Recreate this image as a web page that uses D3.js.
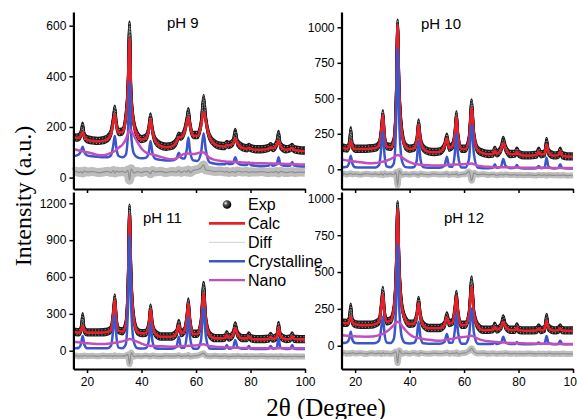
<!DOCTYPE html>
<html>
<head>
<meta charset="utf-8">
<script src="https://cdn.jsdelivr.net/npm/d3@7"></script>
<style>
body { margin: 0; background: #fff; }
svg { display: block; }
.tick text { font-family: "Liberation Sans", Arial, sans-serif; font-size: 12px; fill: #000; }
</style>
</head>
<body>
<div id="chart"></div>
<script>
// 2theta sampling (shared by every curve)
const THETA = [15,16,17,17.8,18.4,19,20,22,24,26,
  27.5,28.8,29.6,30.2,30.8,31.6,33,34.2,35,35.6,
  36.2,37.2,38.5,40,41.5,42.6,43.3,44,45,47,
  49,51,52.8,53.7,54.5,55.8,56.6,57.2,57.8,59,
  60.5,61.8,62.8,63.6,65,67,69,70.6,71.3,72,
  73.6,74.4,75.2,77,78.7,79.4,80.1,82,84,86.6,
  87.4,88.2,89.6,90.3,91,93,94.6,95.3,96,98,
  100];

const X_TICKS = [20, 40, 60, 80, 100];
const LEGEND = ['Exp', 'Calc', 'Diff', 'Crystalline', 'Nano'];

// ---- pH 9 ----
const PH9_EXP = [162,158,160,175,205,165,152,147,145,148,
  155,178,228,272,210,180,183,240,365,605,
  335,215,168,152,157,190,242,188,147,127,
  122,125,143,165,162,185,225,262,210,168,
  168,210,315,232,160,134,126,125,133,129,
  140,180,138,120,116,121,116,112,112,117,
  124,117,135,172,126,112,116,121,112,108,
  107];
const PH9_CALC = [159,157,158,168,180,162,150,145,143,146,
  152,172,215,250,205,178,180,232,350,550,
  320,210,165,150,155,185,230,185,145,125,
  120,123,140,160,160,180,215,238,205,165,
  165,200,260,220,158,132,124,123,130,127,
  136,155,136,118,114,118,114,110,110,114,
  120,115,130,145,124,110,114,118,110,106,
  105];
const PH9_DIFF = [22,25,20,24,18,26,22,24,20,22,
  25,20,28,18,26,22,25,20,30,-10,
  35,18,24,20,25,22,15,28,22,25,
  20,24,22,28,20,26,22,30,20,28,
  32,38,50,30,28,24,26,22,25,20,
  24,20,26,22,24,20,23,22,24,20,
  23,21,24,18,25,20,22,24,20,22,
  21];
const PH9_CRYST = [85,87,92,105,122,100,88,84,82,80,
  80,88,125,165,115,85,80,90,170,380,
  170,95,80,76,78,95,145,98,75,70,
  68,68,75,98,78,75,110,158,105,68,
  66,95,175,110,60,55,53,53,58,54,
  56,80,58,50,50,60,50,47,46,47,
  55,47,52,80,52,46,48,62,48,45,
  44];
const PH9_NANO = [113,110,107,105,104,102,100,95,89,88,
  92,98,102,105,110,118,130,150,172,188,
  185,165,140,115,100,94,93,91,88,82,
  76,72,76,82,88,94,95,95,94,93,
  96,100,99,92,78,70,66,64,63,63,
  62,62,61,60,59,58,58,57,57,56,
  56,56,55,55,55,54,54,53,53,52,
  52];

// ---- pH 10 ----
const PH10_EXP = [155,150,146,170,275,165,145,145,145,148,
  152,175,275,395,235,163,158,200,480,1035,
  575,270,163,145,150,200,330,210,150,126,
  122,126,163,230,152,168,252,388,235,145,
  145,215,470,250,138,115,108,110,138,112,
  146,207,150,108,110,130,110,98,98,103,
  130,106,113,200,122,98,102,130,100,91,
  91];
const PH10_CALC = [153,148,143,160,200,160,143,143,143,146,
  150,170,265,383,230,160,155,195,470,1016,
  560,250,160,143,148,195,312,205,148,124,
  120,124,160,218,150,165,245,371,230,143,
  143,207,430,242,136,113,106,108,131,110,
  143,183,148,106,108,124,108,96,96,101,
  124,104,110,176,120,96,100,124,98,89,
  89];
const PH10_DIFF = [-35,-30,-38,-32,-28,-36,-33,-38,-31,-36,
  -33,-38,-30,-42,-28,-36,-33,-37,-20,-115,
  -10,-40,-34,-38,-32,-36,-40,-30,-35,-38,
  -33,-37,-35,-30,-40,-34,-37,-30,-42,-36,
  -33,-15,-80,-25,-38,-34,-40,-36,-38,-42,
  -37,-40,-35,-41,-38,-43,-39,-42,-40,-44,
  -38,-42,-40,-45,-39,-43,-41,-44,-40,-45,
  -42];
const PH10_CRYST = [15,15,18,45,96,40,14,12,12,12,
  13,30,150,270,100,20,14,40,300,857,
  330,60,15,12,14,60,200,70,15,10,
  10,10,25,89,20,18,110,253,100,12,
  12,70,312,110,12,8,8,10,35,10,
  20,73,25,8,10,30,10,6,6,8,
  23,8,14,82,18,6,10,35,10,5,
  5];
const PH10_NANO = [70,66,62,60,58,57,54,50,45,43,
  44,48,51,54,57,62,72,85,96,101,
  98,85,66,50,40,36,34,32,30,28,
  26,26,28,30,31,32,33,34,34,35,
  37,39,40,36,26,20,17,16,15,15,
  14,14,14,13,12,12,12,11,11,10,
  10,10,10,10,10,9,9,9,9,9,
  9];

// ---- pH 11 ----
const PH11_EXP = [157,152,150,175,280,170,149,149,149,150,
  155,175,300,434,255,166,158,215,535,1167,
  620,265,158,143,145,200,352,214,143,116,
  116,116,144,225,143,166,270,400,242,138,
  138,232,535,260,130,102,102,107,135,107,
  133,205,138,102,102,125,102,94,94,98,
  120,98,114,210,120,94,100,125,97,94,
  94];
const PH11_CALC = [155,150,147,165,201,165,147,147,147,148,
  152,170,290,413,250,163,155,209,521,1105,
  603,250,155,141,143,195,337,209,141,114,
  114,114,141,209,141,163,263,386,236,136,
  136,223,462,250,128,100,100,105,128,105,
  130,182,135,100,100,119,100,92,92,96,
  114,96,110,190,118,92,98,119,95,92,
  92];
const PH11_DIFF = [-43,-40,-46,-41,-45,-39,-44,-42,-46,-40,
  -44,-41,-47,-38,-45,-42,-44,-40,-30,-110,
  -15,-48,-42,-45,-40,-44,-47,-39,-43,-46,
  -41,-44,-42,-38,-46,-42,-44,-36,-48,-43,
  -41,-30,-20,-40,-45,-42,-46,-43,-45,-48,
  -44,-46,-42,-47,-44,-48,-45,-47,-44,-48,
  -45,-47,-46,-49,-44,-48,-46,-49,-45,-48,
  -47];
const PH11_CRYST = [20,20,24,55,119,50,20,19,19,19,
  20,40,170,299,110,25,20,50,330,942,
  360,70,20,18,20,70,228,80,20,16,
  16,16,30,114,25,25,120,271,110,16,
  16,80,353,120,18,15,15,18,46,16,
  25,87,30,15,16,38,15,14,14,16,
  38,16,22,95,25,14,16,46,16,14,
  14];
const PH11_NANO = [73,70,68,66,64,62,60,57,54,54,
  56,60,62,64,66,70,76,84,91,95,
  93,84,72,58,46,42,40,39,38,36,
  34,33,34,36,37,38,39,40,41,42,
  45,49,52,47,38,33,30,28,27,27,
  25,24,24,22,21,21,20,20,20,19,
  19,19,19,19,19,19,19,19,19,19,
  19];

// ---- pH 12 ----
const PH12_EXP = [158,156,155,175,265,165,147,142,142,143,
  151,168,275,378,225,166,173,250,505,961,
  550,270,178,149,152,203,310,202,142,120,
  120,120,143,205,153,163,250,351,225,142,
  142,215,450,230,135,108,108,112,135,110,
  131,185,133,108,108,130,108,104,104,106,
  124,106,116,195,122,104,108,124,106,104,
  104];
const PH12_CALC = [156,154,152,165,197,160,145,140,140,141,
  148,163,265,351,219,163,170,242,491,932,
  536,253,174,147,150,197,292,197,140,118,
  118,118,140,192,150,160,242,337,219,140,
  140,208,400,219,133,106,106,110,129,108,
  128,163,130,106,106,124,106,102,102,104,
  118,104,112,170,120,102,106,118,104,102,
  102];
const PH12_DIFF = [-52,-48,-55,-50,-54,-47,-53,-50,-56,-49,
  -53,-50,-56,-47,-54,-51,-55,-48,-40,-118,
  -30,-55,-50,-54,-48,-53,-56,-47,-52,-55,
  -50,-53,-51,-46,-55,-50,-53,-45,-56,-51,
  -48,-35,-18,-40,-52,-50,-55,-51,-53,-56,
  -52,-54,-50,-55,-52,-56,-53,-55,-52,-56,
  -53,-55,-54,-57,-52,-56,-54,-57,-53,-56,
  -55];
const PH12_CRYST = [18,18,22,45,95,40,18,16,16,16,
  18,35,120,197,80,22,18,45,250,694,
  260,55,18,15,18,55,163,60,16,13,
  13,13,25,79,20,22,100,219,90,14,
  14,65,253,90,14,11,11,13,25,12,
  20,61,22,11,12,25,11,10,10,11,
  22,11,16,66,18,10,12,34,12,10,
  10];
const PH12_NANO = [72,70,68,67,66,65,64,62,61,62,
  66,72,77,80,86,96,118,140,158,163,
  158,135,105,78,60,55,52,50,46,40,
  36,34,38,42,44,46,50,54,56,58,
  60,64,68,62,48,36,30,27,26,25,
  23,22,21,19,18,17,17,16,15,14,
  14,14,13,13,13,12,12,12,11,11,
  11];

const RED = '#e8202a', BLUE = '#3b56c8', MAGENTA = '#c24fc0', GREY = '#8e8e8e';
const SANS = '"Liberation Sans", Arial, sans-serif';
const SERIF = '"Liberation Serif", "Times New Roman", serif';

const W = 577, H = 419;

const PANELS = [
  { label: 'pH 9', exp: PH9_EXP, calc: PH9_CALC, diff: PH9_DIFF, cryst: PH9_CRYST, nano: PH9_NANO,
    yTicks: [0, 200, 400, 600], yDomain: [-45, 654],
    left: 73.4, right: 305, top: 12, bottom: 189, labelAt: [167, 28], xLabels: false, diffW: 9 },
  { label: 'pH 10', exp: PH10_EXP, calc: PH10_CALC, diff: PH10_DIFF, cryst: PH10_CRYST, nano: PH10_NANO,
    yTicks: [0, 250, 500, 750, 1000], yDomain: [-139, 1108],
    left: 341.5, right: 573, top: 12, bottom: 189, labelAt: [421, 29], xLabels: false, diffW: 6 },
  { label: 'pH 11', exp: PH11_EXP, calc: PH11_CALC, diff: PH11_DIFF, cryst: PH11_CRYST, nano: PH11_NANO,
    yTicks: [0, 300, 600, 900, 1200], yDomain: [-149, 1292],
    left: 73.4, right: 305, top: 192, bottom: 369, labelAt: [143, 223], xLabels: true, diffW: 6 },
  { label: 'pH 12', exp: PH12_EXP, calc: PH12_CALC, diff: PH12_DIFF, cryst: PH12_CRYST, nano: PH12_NANO,
    yTicks: [0, 250, 500, 750, 1000], yDomain: [-158, 1043],
    left: 341.5, right: 573, top: 192, bottom: 369, labelAt: [444, 223], xLabels: true, diffW: 6 }
];

const svg = d3.select('#chart').append('svg')
  .attr('width', W)
  .attr('height', H);

const defs = svg.append('defs');
const grad = defs.append('radialGradient').attr('id', 'ball')
  .attr('cx', '35%').attr('cy', '35%').attr('r', '65%');
grad.append('stop').attr('offset', '0%').attr('stop-color', '#ffffff');
grad.append('stop').attr('offset', '35%').attr('stop-color', '#555');
grad.append('stop').attr('offset', '100%').attr('stop-color', '#000');

PANELS.forEach(drawPanel);
drawLegend();

// axis titles
svg.append('text')
  .attr('transform', 'translate(31,196) rotate(-90)')
  .attr('text-anchor', 'middle')
  .style('font-family', SERIF)
  .style('font-size', '24px')
  .text('Intensity (a.u.)');

svg.append('text')
  .attr('x', 326)
  .attr('y', 416)
  .attr('text-anchor', 'middle')
  .style('font-family', SERIF)
  .style('font-size', '25px')
  .text('2θ (Degree)');

function drawPanel(p)
{
  var x = d3.scaleLinear().domain([15, 100]).range([p.left, p.right]);
  var y = d3.scaleLinear().domain(p.yDomain).range([p.bottom, p.top]);
  var g = svg.append('g');

  var lineGenerator = d3.line()
    .x(function(d, i) { return x(THETA[i]); })
    .y(function(d) { return y(d); })
    .curve(d3.curveMonotoneX);

  // Exp: dense dots, drawn as a band thickened vertically only
  var expPath = lineGenerator(p.exp);
  [-3, -1.5, 0, 1.5, 3].forEach(function(off) {
    g.append('path')
      .attr('d', expPath)
      .attr('transform', 'translate(0,' + off + ')')
      .style('fill', 'none')
      .style('stroke', '#1c1c1c')
      .style('stroke-width', 2.4);
  });
  [-2.4, 0.3, 2.6].forEach(function(off, k) {
    g.append('path')
      .attr('d', expPath)
      .attr('transform', 'translate(0,' + off + ')')
      .style('fill', 'none')
      .style('stroke', k == 1 ? '#6a6a6a' : '#b8b8b8')
      .style('stroke-width', 0.9)
      .style('stroke-dasharray', k == 1 ? '1 2.6' : '1 2.2');
  });

  // Diff
  g.append('path')
    .attr('d', lineGenerator(p.diff))
    .style('fill', 'none')
    .style('stroke', '#bdbdbd')
    .style('stroke-width', p.diffW)
    .style('stroke-linejoin', 'round');
  g.append('path')
    .attr('d', lineGenerator(p.diff))
    .style('fill', 'none')
    .style('stroke', GREY)
    .style('stroke-width', 1.2);

  // Calc
  g.append('path')
    .attr('d', lineGenerator(p.calc))
    .style('fill', 'none')
    .style('stroke', RED)
    .style('stroke-width', 2.6);

  // Crystalline
  g.append('path')
    .attr('d', lineGenerator(p.cryst))
    .style('fill', 'none')
    .style('stroke', BLUE)
    .style('stroke-width', 2.5);

  // Nano
  g.append('path')
    .attr('d', lineGenerator(p.nano))
    .style('fill', 'none')
    .style('stroke', MAGENTA)
    .style('stroke-width', 2.5);

  // axes
  var yAxis = d3.axisLeft(y).tickValues(p.yTicks).tickFormat(d3.format('d'))
    .tickSize(4).tickSizeOuter(0).tickPadding(3);
  var ya = g.append('g').attr('transform', 'translate(' + p.left + ',0)').call(yAxis);
  var xAxis = d3.axisBottom(x).tickValues(X_TICKS).tickSize(4).tickSizeOuter(0).tickPadding(4);
  if (!p.xLabels) xAxis.tickFormat('');
  var xa = g.append('g').attr('transform', 'translate(0,' + p.bottom + ')').call(xAxis);
  [ya, xa].forEach(function(a) {
    a.select('.domain').style('stroke', '#000').style('stroke-width', 2.2);
    a.selectAll('.tick line').style('stroke', '#000').style('stroke-width', 1.5);
  });

  g.append('text')
    .attr('x', p.labelAt[0])
    .attr('y', p.labelAt[1])
    .style('font-family', SANS)
    .style('font-size', '15px')
    .text(p.label);
}

function drawLegend()
{
  var lg = svg.append('g');
  var styles = [
    { color: null },
    { color: RED, w: 2.6 },
    { color: '#cfcfcf', w: 1 },
    { color: BLUE, w: 2.6 },
    { color: MAGENTA, w: 2.4 }
  ];
  LEGEND.forEach(function(name, i) {
    var yy = 204.5 + i * 18.9;
    if (styles[i].color == null) {
      lg.append('circle').attr('cx', 227).attr('cy', yy).attr('r', 4.3).style('fill', 'url(#ball)');
    } else {
      lg.append('line')
        .attr('x1', 209).attr('x2', 245)
        .attr('y1', yy).attr('y2', yy)
        .style('stroke', styles[i].color)
        .style('stroke-width', styles[i].w);
    }
    lg.append('text')
      .attr('x', 248)
      .attr('y', yy)
      .attr('dy', '0.36em')
      .style('font-family', SANS)
      .style('font-size', '16px')
      .text(name);
  });
}
</script>
</body>
</html>
